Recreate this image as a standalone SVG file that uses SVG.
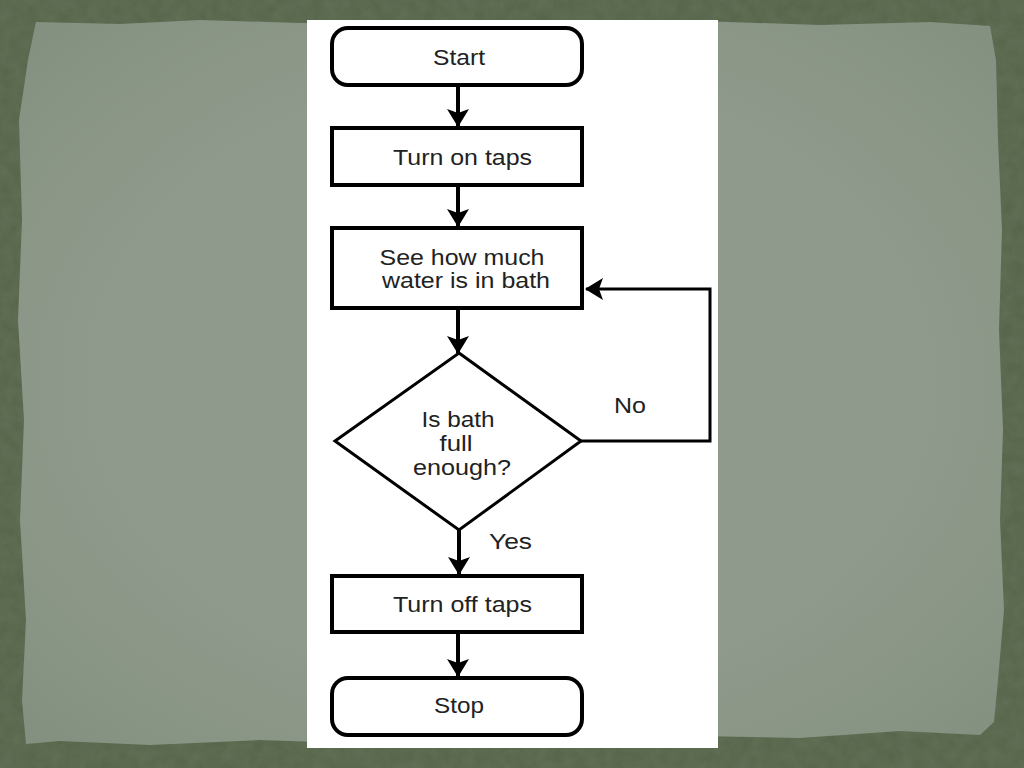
<svg xmlns="http://www.w3.org/2000/svg" width="1024" height="768" viewBox="0 0 1024 768">
<style>
.box{fill:#fff;stroke:#000;stroke-width:4}
.dia{fill:#fff;stroke:#000;stroke-width:3}
.t{font-family:"Liberation Sans",Arial,sans-serif;font-size:22px;fill:#222;text-anchor:middle}
.c{fill:none;stroke:#000;stroke-width:4}
.c2{fill:none;stroke:#000;stroke-width:3}
</style>
<defs>
<marker id="ah" markerUnits="userSpaceOnUse" viewBox="0 0 18 22" markerWidth="18" markerHeight="22" refX="17" refY="11" orient="auto">
<path d="M0,0 L18,11 L0,22 L4,11 z" fill="#000"/>
</marker>
<filter id="noise" x="0" y="0" width="100%" height="100%">
<feTurbulence type="fractalNoise" baseFrequency="0.08" numOctaves="3" seed="3"/>
<feColorMatrix type="matrix" values="0 0 0 0 0.25  0 0 0 0 0.31  0 0 0 0 0.22  0 0 0 0.5 0"/>
<feComposite in2="SourceGraphic" operator="in"/>
</filter>
<radialGradient id="paper" cx="50%" cy="50%" r="70%">
<stop offset="0.6" stop-color="#8f9a8c"/>
<stop offset="1" stop-color="#84907f"/>
</radialGradient>
</defs>
<g id="background">
<rect x="0" y="0" width="1024" height="768" fill="#56654a"/>
<rect x="0" y="0" width="1024" height="768" fill="#000" filter="url(#noise)" opacity="0.45"/>
<path d="M36,22 L120,24 L200,20 L300,23 L420,21 L560,24 L700,21 L820,25 L930,22 L990,26 L996,60 L998,140 L1002,230 L999,330 L1003,430 L1000,520 L1004,610 L998,680 L994,722 L980,735 L900,731 L800,738 L700,736 L600,742 L500,738 L380,744 L260,740 L150,745 L60,741 L26,744 L22,700 L26,620 L20,520 L24,420 L18,320 L22,220 L19,120 L28,60 Z" fill="url(#paper)"/>
</g>
<rect id="panel" x="307" y="20" width="411" height="728" fill="#fff"/>
<g id="connectors">
<path class="c" d="M458,86 L458,126" marker-end="url(#ah)"/>
<path class="c" d="M458,187 L458,226" marker-end="url(#ah)"/>
<path class="c" d="M458,310 L458,353" marker-end="url(#ah)"/>
<path class="c2" d="M581,441 L710,441 L710,289 L586,289" marker-end="url(#ah)"/>
<path class="c" d="M459,530 L459,574" marker-end="url(#ah)"/>
<path class="c" d="M458,633 L458,676" marker-end="url(#ah)"/>
<text class="t" x="630" y="413" textLength="32" lengthAdjust="spacingAndGlyphs">No</text>
<text class="t" x="510.5" y="549" textLength="43" lengthAdjust="spacingAndGlyphs">Yes</text>
</g>
<g id="start">
<rect class="box" x="332" y="28" width="250" height="57" rx="16"/>
<text class="t" x="459" y="65" textLength="52" lengthAdjust="spacingAndGlyphs">Start</text>
</g>
<g id="turn-on">
<rect class="box" x="332" y="128" width="250" height="57"/>
<text class="t" x="462.5" y="165" textLength="139" lengthAdjust="spacingAndGlyphs">Turn on taps</text>
</g>
<g id="see">
<rect class="box" x="332" y="228" width="250" height="80"/>
<text class="t" x="462" y="265" textLength="165" lengthAdjust="spacingAndGlyphs">See how much</text>
<text class="t" x="466" y="288" textLength="168" lengthAdjust="spacingAndGlyphs">water is in bath</text>
</g>
<g id="decision">
<polygon class="dia" points="459,353 581,441 459,530 335,441"/>
<text class="t" x="458" y="427" textLength="73" lengthAdjust="spacingAndGlyphs">Is bath</text>
<text class="t" x="456" y="451" textLength="33" lengthAdjust="spacingAndGlyphs">full</text>
<text class="t" x="462" y="475" textLength="98" lengthAdjust="spacingAndGlyphs">enough?</text>
</g>
<g id="turn-off">
<rect class="box" x="332" y="576" width="250" height="56"/>
<text class="t" x="462.5" y="612" textLength="139" lengthAdjust="spacingAndGlyphs">Turn off taps</text>
</g>
<g id="stop">
<rect class="box" x="332" y="678" width="250" height="57" rx="16"/>
<text class="t" x="459" y="713" textLength="50" lengthAdjust="spacingAndGlyphs">Stop</text>
</g>
</svg>
